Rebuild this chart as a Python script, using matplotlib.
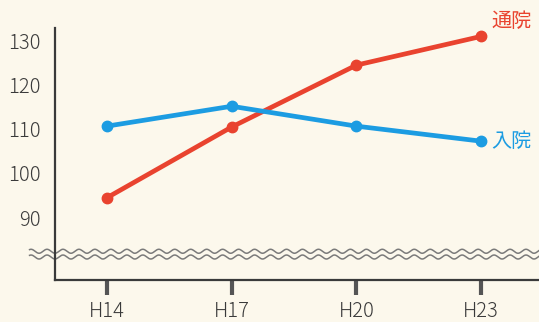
import matplotlib
matplotlib.use("Agg")
import matplotlib.pyplot as plt
import numpy as np

plt.rcParams['font.family'] = ['Noto Sans CJK JP', 'DejaVu Sans']

years = ["H14", "H17", "H20", "H23"]
tsuuin = [94.5, 110.5, 124.5, 131.0]   # 通院
nyuuin = [110.7, 115.2, 110.7, 107.3]  # 入院
yticks = [90, 100, 110, 120, 130]

bg = "#fcf8ec"
red = "#e9432f"
blue = "#1c9ce2"
ink = "#3a3a3a"

fig = plt.figure(figsize=(5.39, 3.22), dpi=100, facecolor=bg)
ax = fig.add_axes([55/539, 42/322, 1 - 55/539, 252/322])
ax.set_facecolor(bg)

x = np.arange(len(years))
ax.plot(x, tsuuin, color=red, lw=3.4, marker="o", ms=7.5, solid_capstyle="round", zorder=3)
ax.plot(x, nyuuin, color=blue, lw=3.4, marker="o", ms=7.5, solid_capstyle="round", zorder=3)

ax.set_xlim(-0.416, 3.464)
ax.set_ylim(75.9, 132.9)

ax.set_yticks(yticks)
ax.set_yticklabels([str(v) for v in yticks], fontsize=14.5, color=ink, fontweight="light")
ax.tick_params(axis="y", length=0, pad=10)

ax.set_xticks(x)
ax.set_xticklabels(years, fontsize=14.5, color=ink, fontweight="light")
ax.tick_params(axis="x", length=11, width=3, color="#555555", direction="out", pad=4)

for s in ["top", "right"]:
    ax.spines[s].set_visible(False)
for s in ["left", "bottom"]:
    ax.spines[s].set_color(ink)
    ax.spines[s].set_linewidth(1.6)

# axis break: two wavy lines across the plot
wx = np.linspace(-0.62, 3.47, 1200)
wave = 0.45 * np.sin(2 * np.pi * wx / 0.128)
for base in (82.4, 81.1):
    ax.plot(wx, base + wave, color="#7a7a7a", lw=1.1, clip_on=False, zorder=2)

# series labels at the line ends
ax.text(3.08, 134.4, "通院", color=red, fontsize=14.5, ha="left", va="center", clip_on=False)
ax.text(3.08, 107.3, "入院", color=blue, fontsize=14.5, ha="left", va="center", clip_on=False)

fig.savefig("out.png", dpi=100, facecolor=bg)
